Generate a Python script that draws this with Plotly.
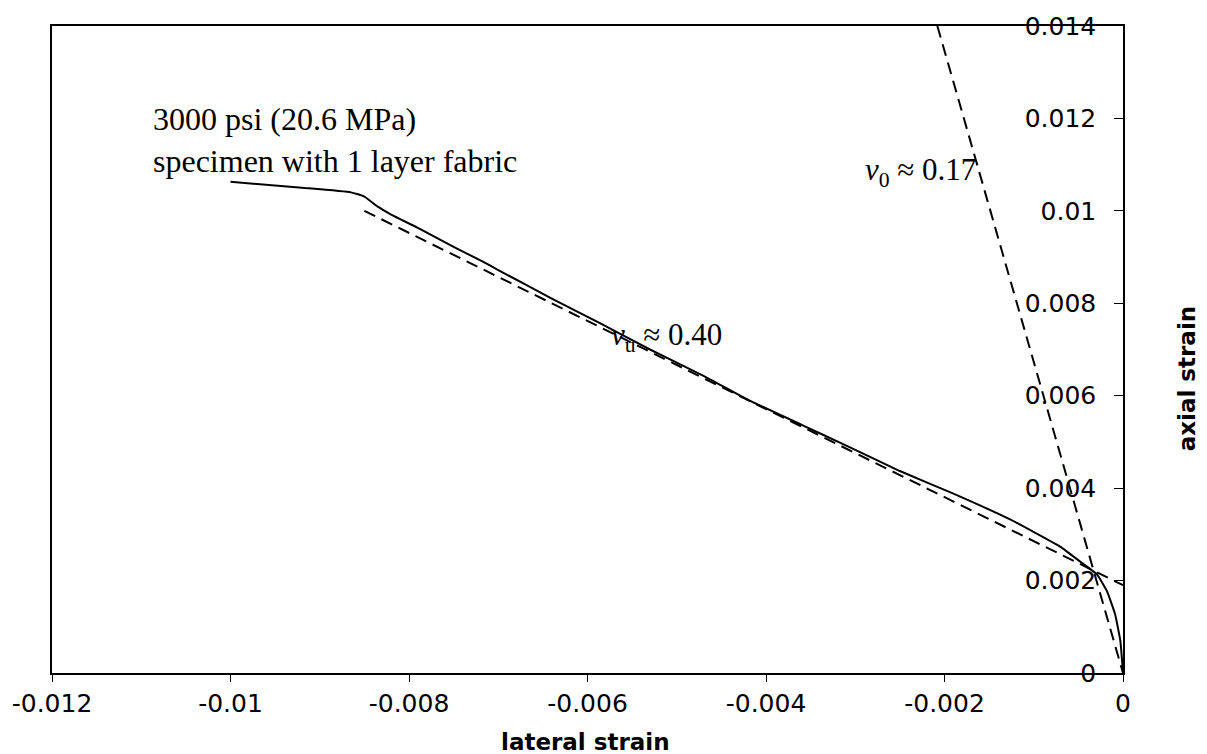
import plotly.graph_objects as go

# Measured curve (lateral strain vs axial strain)
lateral = [-0.0100, -0.0092, -0.00865, -0.0085, -0.00835, -0.0082, -0.0079, -0.0075,
           -0.0072, -0.0070, -0.0064, -0.00585, -0.0053, -0.0047, -0.0042, -0.0036,
           -0.0031, -0.0025, -0.0019, -0.0014, -0.00127, -0.0007, -0.00048, -0.00029,
           -0.00018, -0.00009, -0.00003, 0.0]
axial = [0.01063, 0.01050, 0.01040, 0.01031, 0.01009, 0.00992, 0.00963, 0.00922,
         0.00893, 0.00872, 0.00810, 0.00756, 0.00700, 0.00643, 0.00591, 0.00537,
         0.00492, 0.00437, 0.00388, 0.00345, 0.00333, 0.00273, 0.00241, 0.00213,
         0.00177, 0.00128, 0.00070, 0.0]

# Initial tangent (nu0 ~ 0.17)
tan0_x = [-0.00208, 0.0]
tan0_y = [0.014, 0.0]

# Secondary slope line (nu ~ 0.40)
tan1_x = [-0.0085, 0.0]
tan1_y = [0.0100, 0.00190]

x_tickvals = [-0.012, -0.010, -0.008, -0.006, -0.004, -0.002, 0.0]
x_ticktext = ["-0.012", "-0.01", "-0.008", "-0.006", "-0.004", "-0.002", "0"]
y_tickvals = [0.0, 0.002, 0.004, 0.006, 0.008, 0.010, 0.012, 0.014]
y_ticktext = ["0", "0.002", "0.004", "0.006", "0.008", "0.01", "0.012", "0.014"]

fig = go.Figure()
fig.add_trace(go.Scatter(x=lateral, y=axial, mode="lines",
                         line=dict(color="black", width=2, shape="spline", smoothing=0.4),
                         showlegend=False, hoverinfo="skip"))
fig.add_trace(go.Scatter(x=tan0_x, y=tan0_y, mode="lines",
                         line=dict(color="black", width=2, dash="12px,7px"),
                         showlegend=False, hoverinfo="skip"))
fig.add_trace(go.Scatter(x=tan1_x, y=tan1_y, mode="lines",
                         line=dict(color="black", width=2, dash="12px,7px"),
                         showlegend=False, hoverinfo="skip"))

sans = "DejaVu Sans, Arial, sans-serif"
tickfont = dict(family=sans, size=25, color="black")
serif = "Liberation Serif, Times New Roman, serif"

fig.update_layout(
    width=1207, height=754,
    margin=dict(l=52, r=84, t=17, b=81),
    paper_bgcolor="white", plot_bgcolor="white",
    xaxis=dict(range=[-0.012, 0.0], tickvals=x_tickvals, ticktext=x_ticktext,
               showgrid=False, zeroline=False, showline=True, linecolor="black",
               linewidth=1.5, mirror=True, ticks="outside", ticklen=7,
               tickcolor="black", tickfont=tickfont, ticklabeloverflow="allow"),
    yaxis=dict(range=[0.0, 0.014], tickvals=y_tickvals, ticktext=y_ticktext,
               side="right", showgrid=False, zeroline=False, showline=True,
               linecolor="black", linewidth=1.5, mirror=True, ticks="inside",
               ticklen=9, tickcolor="black", ticklabelposition="inside",
               ticklabelstandoff=20, ticklabeloverflow="allow",
               tickfont=tickfont),
    annotations=[
        dict(text="lateral strain", xref="paper", yref="paper", x=0.4977, y=-0.1067,
             showarrow=False, xanchor="center", yanchor="middle",
             font=dict(family=sans, size=23, color="black", weight="bold")),
        dict(text="axial strain", xref="paper", yref="paper", x=1.0598, y=0.454,
             textangle=-90, showarrow=False, xanchor="center", yanchor="middle",
             font=dict(family=sans, size=23, color="black", weight="bold")),
        dict(text="3000 psi (20.6 MPa)<br>specimen with 1 layer fabric",
             x=-0.01089, y=0.01153, xref="x", yref="y", showarrow=False,
             xanchor="left", yanchor="middle", align="left",
             font=dict(family=serif, size=32, color="black")),
        dict(text="<i>ν</i><sub>0</sub> ≈ 0.17", x=-0.00227, y=0.01084,
             xref="x", yref="y", showarrow=False, xanchor="center", yanchor="middle",
             font=dict(family=serif, size=31, color="black")),
        dict(text="<i>ν</i><sub>u</sub> ≈ 0.40", x=-0.00512, y=0.00728,
             xref="x", yref="y", showarrow=False, xanchor="center", yanchor="middle",
             font=dict(family=serif, size=31, color="black")),
    ],
)

fig.write_html("out.html", config={"displayModeBar": False},
               post_script="document.body.style.margin='0';document.body.style.overflow='hidden';")
